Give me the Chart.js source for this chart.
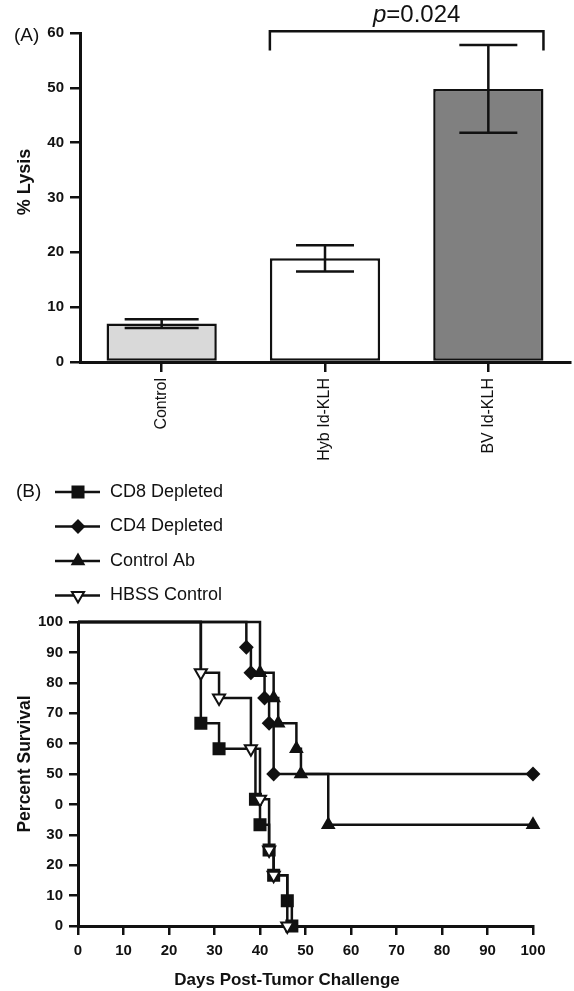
<!DOCTYPE html>
<html>
<head>
<meta charset="utf-8">
<script src="https://cdn.jsdelivr.net/npm/chart.js@4.4.0/dist/chart.umd.min.js"></script>
<style>
  html, body { margin: 0; padding: 0; background: #fff; }
  #wrap { position: relative; width: 574px; height: 991px; }
  #barBox { position: absolute; left: 0; top: 0; width: 574px; height: 470px; }
  #survBox { position: absolute; left: 0; top: 470px; width: 574px; height: 521px; }
</style>
</head>
<body>
<div id="wrap">
  <div id="barBox"><canvas id="barChart"></canvas></div>
  <div id="survBox"><canvas id="survChart"></canvas></div>
</div>
<script>
// (A) % lysis per group, mean and error
const groups = ['Control', 'Hyb Id-KLH', 'BV Id-KLH'];
const lysis = [7.0, 18.9, 49.8];
const lysisErr = [0.8, 2.4, 8.0];
const lysisTicks = [0, 10, 20, 30, 40, 50, 60];
const pValueText = '=0.024';

// (B) survival steps: day of event and percent still alive after it
const cd8Days = [0, 27, 31, 39, 40, 42, 43, 46, 47];
const cd8Surv = [100, 66.7, 58.3, 41.7, 33.3, 25, 16.7, 8.3, 0];
const cd4Days = [0, 37, 38, 41, 42, 43, 100];
const cd4Surv = [100, 91.7, 83.3, 75, 66.7, 50, 50];
const ctrlAbDays = [0, 40, 43, 44, 48, 49, 55, 100];
const ctrlAbSurv = [100, 83.3, 75, 66.7, 58.3, 50, 33.3, 33.3];
const hbssDays = [0, 27, 31, 38, 40, 42, 43, 46];
const hbssSurv = [100, 83.3, 75, 58.3, 41.7, 25, 16.7, 0];
const dayTicks = [0, 10, 20, 30, 40, 50, 60, 70, 80, 90, 100];
const survTicks = [0, 10, 20, 30, 40, 50, 60, 70, 80, 90, 100];
// the "4" of 40 is hidden under the axis title in the original figure
const survTickLabels = ['0', '10', '20', '30', '0', '50', '60', '70', '80', '90', '100'];

const FONT = '"Liberation Sans", Arial, Helvetica, sans-serif';
const INK = '#111';
const capWidths = [74, 58, 58];

const barNotes = {
  id: 'barNotes',
  afterDatasetsDraw(chart) {
    const { ctx, scales: { y } } = chart;
    const bars = chart.getDatasetMeta(0).data;
    ctx.save();
    ctx.strokeStyle = INK;
    ctx.lineWidth = 2.5;
    // error bars
    bars.forEach((bar, i) => {
      const top = y.getPixelForValue(lysis[i] + lysisErr[i]);
      const bot = y.getPixelForValue(lysis[i] - lysisErr[i]);
      const half = capWidths[i] / 2;
      ctx.beginPath();
      ctx.moveTo(bar.x, top); ctx.lineTo(bar.x, bot);
      ctx.moveTo(bar.x - half, top); ctx.lineTo(bar.x + half, top);
      ctx.moveTo(bar.x - half, bot); ctx.lineTo(bar.x + half, bot);
      ctx.stroke();
    });
    // significance bracket between Hyb and BV
    const b1 = bars[1], b2 = bars[2];
    const xl = b1.x - b1.width / 2, xr = b2.x + b2.width / 2;
    const yTop = y.getPixelForValue(60.3), yEnd = y.getPixelForValue(56.8);
    ctx.beginPath();
    ctx.moveTo(xl, yEnd); ctx.lineTo(xl, yTop); ctx.lineTo(xr, yTop); ctx.lineTo(xr, yEnd);
    ctx.stroke();

    ctx.fillStyle = INK;
    ctx.textBaseline = 'alphabetic';
    ctx.font = `italic 24px ${FONT}`;
    const wp = ctx.measureText('p').width;
    ctx.font = `24px ${FONT}`;
    const wr = ctx.measureText(pValueText).width;
    const x0 = (xl + xr) / 2 + 10 - (wp + wr) / 2;
    ctx.font = `italic 24px ${FONT}`;
    ctx.fillText('p', x0, yTop - 9);
    ctx.font = `24px ${FONT}`;
    ctx.fillText(pValueText, x0 + wp, yTop - 9);

    ctx.textBaseline = 'middle';
    ctx.font = `19px ${FONT}`;
    ctx.fillText('(A)', 14, 36);

    ctx.font = `bold 18px ${FONT}`;
    ctx.textAlign = 'center';
    ctx.translate(25, 182);
    ctx.rotate(-Math.PI / 2);
    ctx.fillText('% Lysis', 0, 0);
    ctx.restore();
  }
};

new Chart(document.getElementById('barChart'), {
  type: 'bar',
  data: {
    labels: groups,
    datasets: [{
      data: lysis,
      backgroundColor: ['#d9d9d9', '#ffffff', '#808080'],
      borderColor: INK,
      borderWidth: 2.5,
      borderSkipped: false,
      categoryPercentage: 1,
      barPercentage: 0.675
    }]
  },
  options: {
    responsive: true,
    maintainAspectRatio: false,
    animation: false,
    layout: { padding: { left: 0, top: 33, right: 4, bottom: 0 } },
    plugins: { legend: { display: false }, tooltip: { enabled: false } },
    scales: {
      x: {
        grid: { offset: false, drawOnChartArea: false, tickLength: 10, color: INK, lineWidth: 2.5 },
        border: { color: INK, width: 3 },
        ticks: { minRotation: 90, maxRotation: 90, color: INK, padding: 6, font: { family: FONT, size: 16 } },
        afterFit: s => { s.height = 470 - 362; }
      },
      y: {
        min: 0,
        max: 60,
        afterBuildTicks: s => { s.ticks = lysisTicks.map(v => ({ value: v })); },
        grid: { drawOnChartArea: false, tickLength: 10, color: INK, lineWidth: 2.5 },
        border: { color: INK, width: 3 },
        ticks: { color: INK, padding: 6, font: { family: FONT, size: 15, weight: 'bold' } },
        afterFit: s => { s.width = 80; }
      }
    }
  },
  plugins: [barNotes]
});

// survival chart
function series(label, days, surv, style, radius, fill, rotation, order) {
  return {
    label: label,
    data: days.map((d, i) => ({ x: d, y: surv[i] })),
    stepped: 'before',
    fill: false,
    clip: false,
    order: order,
    borderColor: INK,
    borderWidth: 2.5,
    pointStyle: style,
    pointRotation: rotation,
    pointRadius: days.map((d, i) => (i === 0 ? 0 : radius)),
    pointBackgroundColor: fill,
    pointBorderColor: INK,
    pointBorderWidth: 2,
    legendRadius: radius
  };
}

const survNotes = {
  id: 'survNotes',
  afterDraw(chart) {
    const { ctx } = chart;
    ctx.save();
    ctx.fillStyle = INK;
    ctx.textBaseline = 'middle';
    ctx.font = `19px ${FONT}`;
    ctx.fillText('(B)', 16, 22);

    chart.data.datasets.forEach((ds, i) => {
      const yy = 22 + i * 34.5;
      ctx.strokeStyle = INK;
      ctx.lineWidth = 2.5;
      ctx.beginPath();
      ctx.moveTo(55, yy); ctx.lineTo(100, yy);
      ctx.stroke();
      ctx.fillStyle = ds.pointBackgroundColor;
      ctx.lineWidth = 2;
      Chart.helpers.drawPoint(ctx, {
        pointStyle: ds.pointStyle,
        rotation: ds.pointRotation,
        radius: ds.legendRadius,
        borderWidth: 2
      }, 78, yy);
      ctx.fillStyle = INK;
      ctx.font = `18px ${FONT}`;
      ctx.fillText(ds.label, 110, yy);
    });

    ctx.font = `bold 17px ${FONT}`;
    ctx.textAlign = 'center';
    ctx.fillText('Days Post-Tumor Challenge', 287, 510);

    ctx.font = `bold 17.5px ${FONT}`;
    ctx.translate(25, 294);
    ctx.rotate(-Math.PI / 2);
    ctx.fillText('Percent Survival', 0, 0);
    ctx.restore();
  }
};

new Chart(document.getElementById('survChart'), {
  type: 'line',
  data: {
    datasets: [
      series('CD8 Depleted', cd8Days, cd8Surv, 'rect', 7.8, INK, 0, 1),
      series('CD4 Depleted', cd4Days, cd4Surv, 'rectRot', 6, INK, 0, 3),
      series('Control Ab', ctrlAbDays, ctrlAbSurv, 'triangle', 6.5, INK, 0, 2),
      series('HBSS Control', hbssDays, hbssSurv, 'triangle', 7, '#ffffff', 180, 0)
    ]
  },
  options: {
    responsive: true,
    maintainAspectRatio: false,
    animation: false,
    layout: { padding: { left: 0, top: 152, right: 41, bottom: 0 } },
    plugins: { legend: { display: false }, tooltip: { enabled: false } },
    scales: {
      x: {
        type: 'linear',
        min: 0,
        max: 100,
        afterBuildTicks: s => { s.ticks = dayTicks.map(v => ({ value: v })); },
        grid: { drawOnChartArea: false, tickLength: 9, color: INK, lineWidth: 2.5 },
        border: { color: INK, width: 3 },
        ticks: { color: INK, padding: 7, font: { family: FONT, size: 15, weight: 'bold' } },
        afterFit: s => { s.height = 65; }
      },
      y: {
        min: 0,
        max: 100,
        afterBuildTicks: s => { s.ticks = survTicks.map(v => ({ value: v })); },
        grid: { drawOnChartArea: false, tickLength: 9, color: INK, lineWidth: 2.5 },
        border: { color: INK, width: 3 },
        ticks: {
          color: INK,
          padding: 6,
          font: { family: FONT, size: 15, weight: 'bold' },
          callback: v => survTickLabels[survTicks.indexOf(v)]
        },
        afterFit: s => { s.width = 78; }
      }
    }
  },
  plugins: [survNotes]
});
</script>
</body>
</html>
